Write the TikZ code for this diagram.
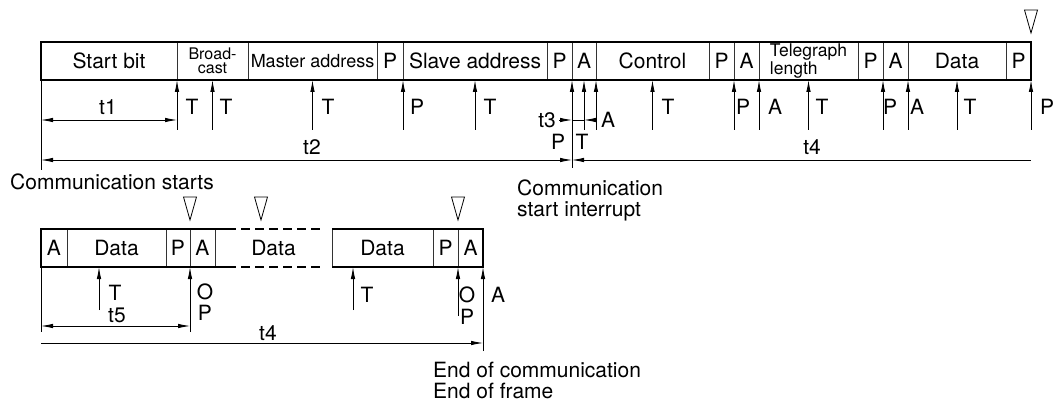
\documentclass[tikz,border=0pt]{standalone}
\usepackage{fontspec}
\setmainfont{TeX Gyre Heros}
\usetikzlibrary{positioning,arrows.meta,calc}

\tikzset{
  cell/.style={draw=black!80, line width=0.8pt, minimum height=38pt, inner sep=0pt, outer sep=0pt},
  thickframe/.style={line width=2.4pt},
  tick/.style={->, line width=0.8pt},
  dimline/.style={line width=0.8pt},
  lbl/.style={inner sep=0pt},
  trimark/.pic={\draw[line width=0.8pt] (-6.5,-23) -- (6.5,-23) -- (0,0) -- cycle;}
}

\begin{document}
\begin{tikzpicture}[x=1pt, y=-1pt, font=\fontsize{21}{21}\selectfont,
  >={Latex[length=12pt,width=4.5pt]}]
  \useasboundingbox (0,0) rectangle (1054,403);

  % first telegram
  \node[cell, minimum width=136pt] (sb) at (109,61) {Start bit};
  \node[cell, minimum width=71pt, right=0pt of sb, align=center, font=\fontsize{16}{14}\selectfont] (bc) {Broad-\\cast};
  \node[cell, minimum width=129pt, right=0pt of bc, font=\fontsize{18}{18}\selectfont] (ma) {Master address};
  \node[cell, minimum width=26pt, right=0pt of ma] (p1) {P};
  \node[cell, minimum width=144pt, right=0pt of p1] (sa) {Slave address};
  \node[cell, minimum width=25pt, right=0pt of sa] (p2) {P};
  \node[cell, minimum width=24pt, right=0pt of p2] (a2) {A};
  \node[cell, minimum width=113pt, right=0pt of a2] (ct) {Control};
  \node[cell, minimum width=25pt, right=0pt of ct] (p3) {P};
  \node[cell, minimum width=25pt, right=0pt of p3] (a3) {A};
  \node[cell, minimum width=99pt, right=0pt of a3, align=left, font=\fontsize{17.5}{16}\selectfont] (tl) {Telegraph\\length};
  \node[cell, minimum width=25pt, right=0pt of tl] (p4) {P};
  \node[cell, minimum width=25pt, right=0pt of p4] (a4) {A};
  \node[cell, minimum width=98pt, right=0pt of a4] (dt) {Data};
  \node[cell, minimum width=25pt, right=0pt of dt] (p5) {P};
  \draw[thickframe] (sb.north west) rectangle (p5.south east);
  \pic at ($(p5.north east)+(0,-9)$) {trimark};

  \coordinate (r1) at (0,130);
  \coordinate (r2) at (0,168);
  \coordinate (d1) at (0,120);
  \coordinate (d2) at (0,160);
  \foreach \a in {sb.south east, bc.south, ma.south, sa.south west, sa.south, a2.south,
                  a2.south east, ct.south, a3.south west, a3.south east, tl.south,
                  a4.south west, a4.south east, dt.south, p5.south east}
    \draw[tick] ($(\a)+(0,50)$) -- (\a);
  \draw[tick] (p2.south east |- r2) -- (p2.south east);
  \draw[dimline] (sb.south west) -- ($(sb.south west)+(0,90)$);

  \foreach \x/\t [count=\i] in {192/T, 226/T, 328/T, 417/P, 490/T, 668/T, 743/P,
                                775/A, 822/T, 890/P, 917/A, 970/T, 1047/P}
    \node[lbl] (u\i) at (\x,107) {\t};
  \node[lbl] (ua) at (608,120) {A};
  \node[lbl] (up) at (558,142) {P};
  \node[lbl] (ut) at (582,142) {T};

  % times of first telegram
  \draw[dimline, <->] (sb.south west |- d1) -- (sb.south east |- d1);
  \node[lbl] (t1) at (108,107) {t1};
  \draw[dimline, <->] (sb.south west |- d2) -- (p2.south east |- d2);
  \node[lbl] (t2) at (312,147) {t2};
  \draw[dimline, <-] (p2.south east |- d2) -- (p5.south east |- d2);
  \node[lbl] (t4) at (812,147) {t4};
  \draw[dimline] (p2.south east |- d1) -- (a2.south |- d1);
  \draw[dimline, ->] ($(p2.south east |- d1)+(-13,0)$) -- (p2.south east |- d1);
  \draw[dimline, ->] ($(a2.south |- d1)+(9,0)$) -- (a2.south |- d1);
  \node[lbl] (t3) at (547,120) {t3};

  \node[lbl, anchor=west] (cs) at (10,182) {Communication starts};
  \node[lbl, anchor=west, align=left] (ci) at (517,200) {Communication\\start interrupt};

  % second telegram
  \node[cell, minimum width=26pt] (a5) at (54,248) {A};
  \node[cell, minimum width=99pt, right=0pt of a5] (d5) {Data};
  \node[cell, minimum width=24pt, right=0pt of d5] (p6) {P};
  \node[cell, minimum width=25pt, right=0pt of p6] (a6) {A};
  \node[cell, draw=none, minimum width=117pt, right=0pt of a6] (dd) {Data};
  \node[cell, minimum width=101pt, right=0pt of dd] (d6) {Data};
  \node[cell, minimum width=25pt, right=0pt of d6] (p7) {P};
  \node[cell, minimum width=25pt, right=0pt of p7] (a7) {A};
  \draw[thickframe] ($(dd.north west)+(12,0)$) -| (a5.south west) -- ($(dd.south west)+(12,0)$);
  \draw[thickframe] (d6.north west) -| (a7.south east) -- (d6.south west);
  \draw[thickframe, dash pattern=on 9pt off 5pt] ($(dd.north west)+(12,0)$) -- ($(dd.north east)+(-9,0)$);
  \draw[thickframe, dash pattern=on 9pt off 5pt] ($(dd.south west)+(12,0)$) -- ($(dd.south east)+(-9,0)$);
  \pic at ($(a6.north west)+(0,-9)$) {trimark};
  \pic at ($(dd.north west)+(46,-9)$) {trimark};
  \pic at ($(a7.north west)+(0,-9)$) {trimark};

  \coordinate (r3) at (0,310);
  \coordinate (d3) at (0,326);
  \coordinate (d4) at (0,343);
  \coordinate (k1) at ($(d5.south west)+(32,0)$);
  \coordinate (k2) at ($(d6.south west)+(21,0)$);
  \draw[tick] (k1 |- r3) -- (k1);
  \draw[tick] (k2 |- r3) -- (k2);
  \draw[tick] ($(a6.south west)+(0,65)$) -- (a6.south west);
  \draw[tick] ($(a7.south west)+(0,49)$) -- (a7.south west);
  \draw[tick] ($(a7.south east)+(0,84)$) -- (a7.south east);
  \draw[dimline] (a5.south west) -- ($(a5.south west)+(0,65)$);

  \node[lbl] (v1) at (115,293) {T};
  \node[lbl] (v2) at (205,292) {O};
  \node[lbl] (v3) at (205,313) {P};
  \node[lbl] (v4) at (367,295) {T};
  \node[lbl] (v5) at (467,295) {O};
  \node[lbl] (v6) at (467,317) {P};
  \node[lbl] (v7) at (498,295) {A};

  % times of second telegram
  \draw[dimline, <->] (a5.south west |- d3) -- (a6.south west |- d3);
  \node[lbl] (t5) at (117,315) {t5};
  \draw[dimline, ->] (a5.south west |- d4) -- (a7.south east |- d4);
  \node[lbl] (t4b) at (268,333) {t4};

  \node[lbl, anchor=west, align=left] (ec) at (433,380) {End of communication\\End of frame};
\end{tikzpicture}
\end{document}
